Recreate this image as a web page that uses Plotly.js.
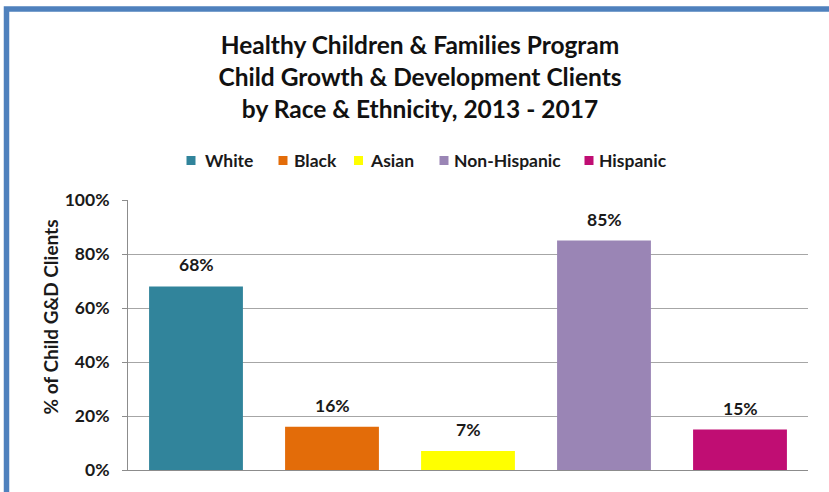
<!DOCTYPE html>
<html>
<head>
<meta charset="utf-8">
<script src="https://cdn.plot.ly/plotly-3.0.1.min.js"></script>
<style>html,body{margin:0;padding:0;background:#fff;}#chart{width:829px;height:492px;}</style>
</head>
<body>
<div id="chart"></div>
<script>
const categories = ["White", "Black", "Asian", "Non-Hispanic", "Hispanic"];
const values = [68, 16, 7, 85, 15];
const colors = ["#31849B", "#E36C09", "#FFFF00", "#9A85B5", "#C00D73"];
const yTicks = [0, 20, 40, 60, 80, 100];
const yTickLabels = ["0%", "20%", "40%", "60%", "80%", "100%"];
const yAxisTitle = "% of Child G&amp;D Clients";
const chartTitle = "Healthy Children &amp; Families Program<br>Child Growth &amp; Development Clients<br>by Race &amp; Ethnicity, 2013 - 2017";

const FONT = "Lato, 'Open Sans', sans-serif";
const TXT = "#1a1a1a";

const traces = categories.map((c, i) => ({
  type: "bar",
  name: c,
  x: [c],
  y: [values[i]],
  marker: {color: colors[i]},
  showlegend: false,
  hoverinfo: "x+y"
}));

const L = 128, R = 808, T = 200, B = 470;
const W = R - L, H = B - T;
const px = v => (v - L) / W;
const py = v => (B - v) / H;

// legend layout (pixel positions of the marker centres / text starts)
const legendMarkerX = [191, 283, 358.5, 444, 589];
const legendTextX = [203, 292, 368, 452, 597];
const legendY = 160;

const annotations = [];
const shapes = [];
categories.forEach((c, i) => {
  // data label
  annotations.push({
    x: c, y: values[i], xref: "x", yref: "y",
    text: values[i] + "%", showarrow: false,
    xanchor: "center", yanchor: "bottom", yshift: 9,
    font: {family: FONT, size: 17.5, color: TXT, weight: "bold"}
  });
  // legend marker
  shapes.push({
    type: "rect", xref: "paper", yref: "paper",
    x0: px(legendMarkerX[i] - 4.5), x1: px(legendMarkerX[i] + 4.5),
    y0: py(legendY + 5), y1: py(legendY - 4),
    fillcolor: colors[i], line: {width: 0}
  });
  // legend text
  annotations.push({
    x: px(legendTextX[i]), y: py(legendY), xref: "paper", yref: "paper",
    text: c, showarrow: false, xanchor: "left", yanchor: "middle",
    font: {family: FONT, size: 17.5, color: TXT, weight: "bold"}
  });
});

// y-axis title
annotations.push({
  x: px(50), y: py(317.5), xref: "paper", yref: "paper",
  text: yAxisTitle, textangle: -90, showarrow: false,
  xanchor: "center", yanchor: "middle",
  font: {family: FONT, size: 19, color: TXT, weight: "bold"}
});

shapes.push({
  type: "rect", xref: "paper", yref: "paper",
  x0: px(6.5), x1: px(850), y0: py(520), y1: py(9),
  line: {color: "#4F81BD", width: 5.5}, fillcolor: "rgba(0,0,0,0)", layer: "above"
});

const layout = {
  width: 829, height: 492,
  margin: {l: L, r: 829 - R, t: T, b: 492 - B, pad: 0},
  paper_bgcolor: "#fff", plot_bgcolor: "#fff",
  font: {family: FONT, color: TXT, weight: "bold"},
  barmode: "overlay",
  bargap: 0.31,
  showlegend: false,
  title: {
    text: chartTitle,
    font: {family: FONT, size: 24.5, color: "#111", weight: "bold"},
    x: 420 / 829, xref: "container", xanchor: "center",
    y: 1 - 54 / 492, yref: "container", yanchor: "top"
  },
  xaxis: {
    type: "category",
    categoryorder: "array", categoryarray: categories,
    showticklabels: false, ticks: "",
    showgrid: false, zeroline: false,
    showline: true, linecolor: "#8c8c8c", linewidth: 1
  },
  yaxis: {
    range: [0, 100],
    tickvals: yTicks, ticktext: yTickLabels,
    ticks: "outside", ticklen: 5, tickcolor: "#8c8c8c",
    ticklabelstandoff: 9,
    showgrid: true, gridcolor: "#a6a6a6", gridwidth: 1,
    zeroline: false,
    showline: true, linecolor: "#8c8c8c", linewidth: 1,
    tickfont: {family: FONT, size: 17.5, color: TXT, weight: "bold"}
  },
  annotations: annotations,
  shapes: shapes
};

Plotly.newPlot("chart", traces, layout, {displayModeBar: false, staticPlot: true});
</script>
</body>
</html>
